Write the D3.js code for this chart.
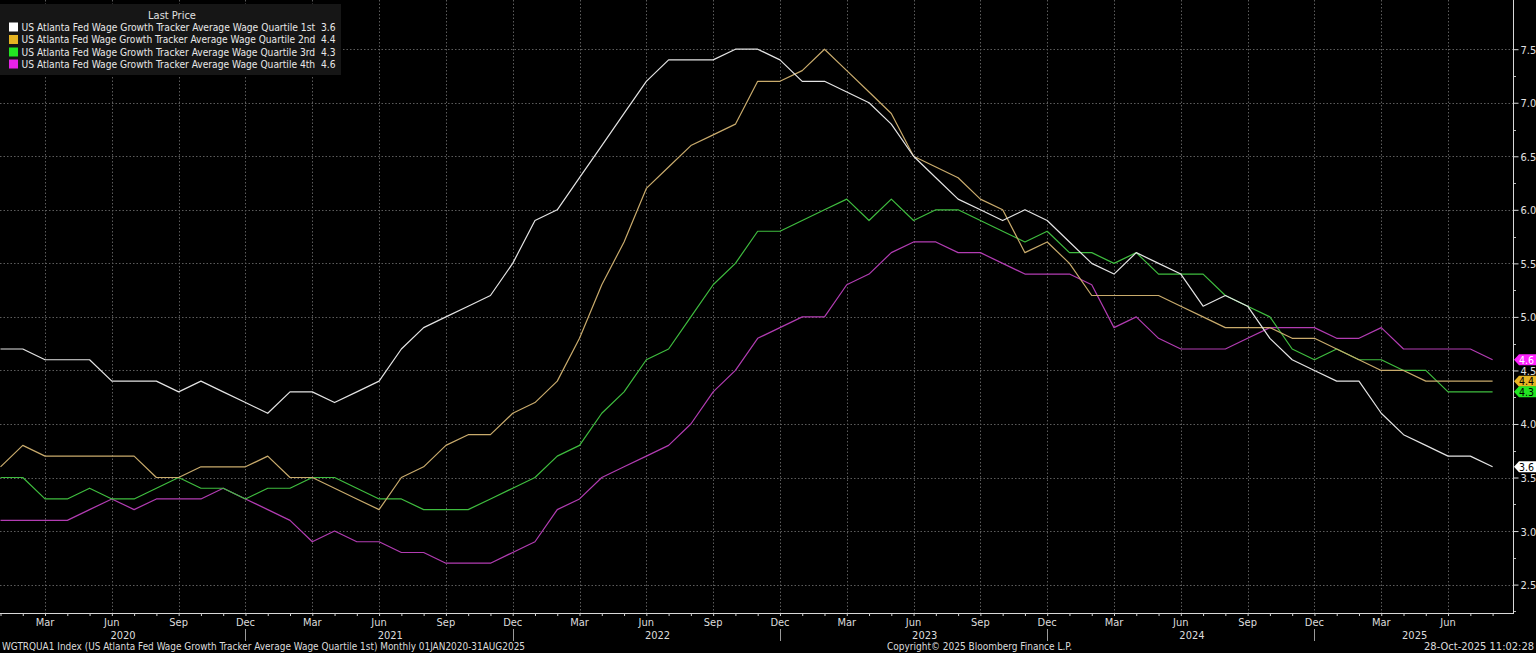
<!DOCTYPE html>
<html><head><meta charset="utf-8">
<script src="https://cdn.jsdelivr.net/npm/d3@7/dist/d3.min.js"></script>
<style>
html,body{margin:0;padding:0;background:#000;overflow:hidden}
svg{display:block}
text{font-family:"DejaVu Sans Condensed","DejaVu Sans",sans-serif}
</style></head>
<body>
<svg id="chart" width="1536" height="653"></svg>
<script>
// ---- DATA (monthly, Jan 2020 .. Aug 2025) ----
const startYear = 2020, startMonth = 0, nMonths = 68;
const q1 = [4.7,4.7,4.6,4.6,4.6,4.4,4.4,4.4,4.3,4.4,4.3,4.2,
            4.1,4.3,4.3,4.2,4.3,4.4,4.7,4.9,5.0,5.1,5.2,5.5,
            5.9,6.0,6.3,6.6,6.9,7.2,7.4,7.4,7.4,7.5,7.5,7.4,
            7.2,7.2,7.1,7.0,6.8,6.5,6.3,6.1,6.0,5.9,6.0,5.9,
            5.7,5.5,5.4,5.6,5.5,5.4,5.1,5.2,5.1,4.8,4.6,4.5,
            4.4,4.4,4.1,3.9,3.8,3.7,3.7,3.6];
const q2 = [3.6,3.8,3.7,3.7,3.7,3.7,3.7,3.5,3.5,3.6,3.6,3.6,
            3.7,3.5,3.5,3.4,3.3,3.2,3.5,3.6,3.8,3.9,3.9,4.1,
            4.2,4.4,4.8,5.3,5.7,6.2,6.4,6.6,6.7,6.8,7.2,7.2,
            7.3,7.5,7.3,7.1,6.9,6.5,6.4,6.3,6.1,6.0,5.6,5.7,
            5.5,5.2,5.2,5.2,5.2,5.1,5.0,4.9,4.9,4.9,4.8,4.8,
            4.7,4.6,4.5,4.5,4.4,4.4,4.4,4.4];
const q3 = [3.5,3.5,3.3,3.3,3.4,3.3,3.3,3.4,3.5,3.4,3.4,3.3,
            3.4,3.4,3.5,3.5,3.4,3.3,3.3,3.2,3.2,3.2,3.3,3.4,
            3.5,3.7,3.8,4.1,4.3,4.6,4.7,5.0,5.3,5.5,5.8,5.8,
            5.9,6.0,6.1,5.9,6.1,5.9,6.0,6.0,5.9,5.8,5.7,5.8,
            5.6,5.6,5.5,5.6,5.4,5.4,5.4,5.2,5.1,5.0,4.7,4.6,
            4.7,4.6,4.6,4.5,4.5,4.3,4.3,4.3];
const q4 = [3.1,3.1,3.1,3.1,3.2,3.3,3.2,3.3,3.3,3.3,3.4,3.3,
            3.2,3.1,2.9,3.0,2.9,2.9,2.8,2.8,2.7,2.7,2.7,2.8,
            2.9,3.2,3.3,3.5,3.6,3.7,3.8,4.0,4.3,4.5,4.8,4.9,
            5.0,5.0,5.3,5.4,5.6,5.7,5.7,5.6,5.6,5.5,5.4,5.4,
            5.4,5.3,4.9,5.0,4.8,4.7,4.7,4.7,4.8,4.9,4.9,4.9,
            4.8,4.8,4.9,4.7,4.7,4.7,4.7,4.6];
const seriesNames = ["US Atlanta Fed Wage Growth Tracker Average Wage Quartile 1st",
                     "US Atlanta Fed Wage Growth Tracker Average Wage Quartile 2nd",
                     "US Atlanta Fed Wage Growth Tracker Average Wage Quartile 3rd",
                     "US Atlanta Fed Wage Growth Tracker Average Wage Quartile 4th"];
const lastValues = ["3.6","4.4","4.3","4.6"];
const monthNames = ["Jan","Feb","Mar","Apr","May","Jun","Jul","Aug","Sep","Oct","Nov","Dec"];
const yTicks = [2.5,3.0,3.5,4.0,4.5,5.0,5.5,6.0,6.5,7.0,7.5];
const years = [2020,2021,2022,2023,2024,2025];
const footerLeft = "WGTRQUA1 Index (US Atlanta Fed Wage Growth Tracker Average Wage Quartile 1st) Monthly 01JAN2020-31AUG2025";
const footerMid = "Copyright\u00A9 2025 Bloomberg Finance L.P.";
const footerRight = "28-Oct-2025 11:02:28";

// ---- STYLE ----
const lineColors = ["#e4e4e4","#c9ab6c","#3fbd3f","#b23cb2"];
const swatchColors = ["#ffffff","#e6b422","#22e622","#e622e6"];
const tagFill = ["#ffffff","#e6b422","#22e622","#ff22ff"];
const tagText = ["#000","#000","#000","#fff"];

const svg = d3.select("#chart");
const W = 1536, H = 653;
const axisX = 1513, axisY = 613;

const x = d3.scaleLinear().domain([0, nMonths-1]).range([0.5, 1492.6]);
const y = d3.scaleLinear().domain([2.5, 7.5]).range([584.6, 49.2]);

svg.append("rect").attr("width",W).attr("height",H).attr("fill","#000");

// grid
const grid = svg.append("g");
const quarterIdx = d3.range(nMonths).filter(i => (startMonth + i) % 3 === 2);
grid.selectAll("line.v").data(quarterIdx).join("line")
  .attr("x1", d => Math.round(x(d))+0.5).attr("x2", d => Math.round(x(d))+0.5)
  .attr("y1", 0).attr("y2", axisY)
  .attr("stroke","#5c5c5c").attr("stroke-width",1).attr("stroke-dasharray","1.5,2");
grid.selectAll("line.h").data(yTicks).join("line")
  .attr("x1", 0).attr("x2", axisX)
  .attr("y1", d => Math.round(y(d))+0.5).attr("y2", d => Math.round(y(d))+0.5)
  .attr("stroke","#5c5c5c").attr("stroke-width",1).attr("stroke-dasharray","1.5,2");

// lines
const allSeries = [q1,q2,q3,q4];
const line = d3.line().x((d,i) => x(i)).y(d => y(d));
[3,2,1,0].forEach(k => {
  svg.append("path").datum(allSeries[k]).attr("d", line)
    .attr("fill","none").attr("stroke", lineColors[k]).attr("stroke-width",1.2)
    .attr("stroke-linejoin","round");
});

// right axis
const yAxis = d3.axisRight(y).tickValues(yTicks).tickFormat(d3.format(".1f")).tickSize(5).tickPadding(2);
const ga = svg.append("g").attr("transform",`translate(${axisX+0.5},0)`).call(yAxis);
ga.select(".domain").remove();
ga.selectAll("line").attr("stroke","#d8d8d8");
ga.selectAll("text").attr("fill","#e0e0e0").attr("font-size",11).attr("dy","0.36em");
// minor ticks
const minorTicks = d3.range(2.25, 7.75, 0.5);
svg.append("g").selectAll("line").data(minorTicks).join("line")
  .attr("x1", axisX).attr("x2", axisX+3)
  .attr("y1", d => Math.round(y(d))+0.5).attr("y2", d => Math.round(y(d))+0.5)
  .attr("stroke","#bbb");
svg.append("line").attr("x1",axisX+0.5).attr("x2",axisX+0.5).attr("y1",0).attr("y2",axisY)
  .attr("stroke","#d8d8d8");

// bottom axis
svg.append("line").attr("x1",0).attr("x2",axisX+1).attr("y1",axisY+0.5).attr("y2",axisY+0.5)
  .attr("stroke","#d8d8d8");
const xAxis = d3.axisBottom(x).tickValues(d3.range(nMonths)).tickSize(3).tickFormat("");
const gx = svg.append("g").attr("transform",`translate(0,${axisY})`).call(xAxis);
gx.select(".domain").remove();
gx.selectAll("line").attr("stroke","#cfcfcf");
svg.append("g").selectAll("text").data(quarterIdx).join("text")
  .attr("x", d => x(d)).attr("y", 626).attr("text-anchor","middle")
  .attr("fill","#dcdcdc").attr("font-size",11)
  .text(d => monthNames[(startMonth + d) % 12]);
// year labels & separators
const yearMid = yr => {
  const a = Math.max(0, (yr-startYear)*12 - startMonth);
  const b = Math.min(nMonths-1, a + 11);
  return (x(a) + x(b)) / 2;
};
svg.append("g").selectAll("text").data(years).join("text")
  .attr("x", d => yearMid(d)).attr("y", 639).attr("text-anchor","middle")
  .attr("fill","#dcdcdc").attr("font-size",11).text(d => d);
const decIdx = d3.range(nMonths).filter(i => (startMonth + i) % 12 === 11);
svg.append("g").selectAll("line").data(decIdx).join("line")
  .attr("x1", d => Math.round(x(d))+0.5).attr("x2", d => Math.round(x(d))+0.5)
  .attr("y1", 629).attr("y2", 641).attr("stroke","#9a9a9a");

// last value tags
const tg = svg.append("g");
[0,1,2,3].forEach(k => {
  const v = allSeries[k][nMonths-1];
  const cy = y(v);
  const h = 11;
  tg.append("path")
    .attr("d", `M${axisX+1},${cy} L${axisX+6},${cy-h/2} L${W},${cy-h/2} L${W},${cy+h/2} L${axisX+6},${cy+h/2} Z`)
    .attr("fill", tagFill[k]);
  tg.append("text").attr("x", axisX+6).attr("y", cy).attr("dy","0.36em")
    .attr("fill", tagText[k]).attr("font-size",10.5).text(lastValues[k]);
});

// legend
const lg = svg.append("g");
lg.append("rect").attr("x",0).attr("y",4).attr("width",341).attr("height",71).attr("fill","#161616");
lg.append("text").attr("x",172).attr("y",19).attr("text-anchor","middle")
  .attr("fill","#e0e0e0").attr("font-size",11).text("Last Price");
const rowY = [27,39.5,52,64];
seriesNames.forEach((nm,k) => {
  lg.append("rect").attr("x",9).attr("y",rowY[k]-4.5).attr("width",9).attr("height",9).attr("fill",swatchColors[k]);
  lg.append("text").attr("x",21.5).attr("y",rowY[k]).attr("dy","0.36em")
    .attr("fill","#e8e8e8").attr("font-size",11)
    .attr("textLength",314).attr("lengthAdjust","spacingAndGlyphs")
    .text(nm + "\u00A0\u00A0" + lastValues[k]);
});

// footer
svg.append("text").attr("x",2).attr("y",650).attr("fill","#dcdcdc").attr("font-size",11)
  .attr("textLength",523).attr("lengthAdjust","spacingAndGlyphs").text(footerLeft);
svg.append("text").attr("x",887).attr("y",650).attr("fill","#dcdcdc").attr("font-size",11)
  .attr("textLength",185).attr("lengthAdjust","spacingAndGlyphs").text(footerMid);
svg.append("text").attr("x",1534).attr("y",650).attr("text-anchor","end").attr("fill","#dcdcdc").attr("font-size",11)
  .text(footerRight);
</script>
</body></html>
